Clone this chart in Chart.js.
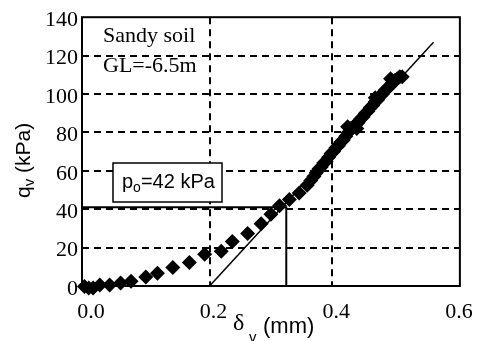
<!DOCTYPE html>
<html>
<head>
<meta charset="utf-8">
<script src="https://cdn.jsdelivr.net/npm/chart.js@4.4.1/dist/chart.umd.min.js"></script>
<style>
html, body { margin: 0; padding: 0; background: #fff; }
canvas { display: block; }
</style>
</head>
<body>
<canvas id="grafico" width="482" height="341"></canvas>
<script>
// leituras do ensaio (deslocamento em mm, pressao em kPa)
const deslocamento = [-0.004, 0.003, 0.010, 0.021, 0.037, 0.055, 0.072, 0.096, 0.115, 0.140, 0.167, 0.192,
    0.219, 0.237, 0.262, 0.284, 0.300, 0.314, 0.330, 0.346, 0.359, 0.365, 0.370, 0.374, 0.378, 0.382,
    0.386, 0.390, 0.394, 0.398, 0.402, 0.406, 0.410, 0.414, 0.418, 0.422, 0.426, 0.430, 0.434, 0.438,
    0.442, 0.446, 0.450, 0.454, 0.458, 0.462, 0.466, 0.470, 0.474, 0.478, 0.482, 0.486, 0.490, 0.494,
    0.498, 0.502, 0.506, 0.510, 0.514, 0.425, 0.440, 0.470, 0.495];
const pressao = [-0.3, -1, -1, 0.5, 0.5, 1.5, 2.5, 4.7, 6.7, 9.7, 12.2, 16.5,
    18.1, 23.2, 27.4, 32.4, 37.4, 41.8, 45, 48.4, 52.5, 55, 57, 59, 61, 62,
    64, 65, 67, 69, 70, 72, 73, 75, 76, 78, 80, 82, 83, 84,
    85, 87, 88, 90, 91, 93, 94, 96, 97, 99, 100, 102, 103, 104,
    106, 107, 108, 109, 109, 83, 82, 98, 108];

// reta ajustada no trecho linear
const retaX = [0.2, 0.565];
const retaY = [0, 127];

// leitura de po
const linhaPoX = [-0.008, 0.325, 0.325];
const linhaPoY = [41, 41, 0];

const marcasX = [0.0, 0.2, 0.4, 0.6];
const marcasY = [0, 20, 40, 60, 80, 100, 120, 140];

function juntar(xs, ys) {
    let pts = [];
    for (var i = 0; i < xs.length; i++) {
        pts.push({ x: xs[i], y: ys[i] });
    }
    return pts;
}

const serif = '"Liberation Serif", "Times New Roman", serif';
const sans = '"Liberation Sans", Arial, sans-serif';

const moldura = {
    id: 'moldura',
    afterDraw(chart) {
        const ctx = chart.ctx;
        const a = chart.chartArea;
        ctx.save();
        ctx.strokeStyle = '#000';
        ctx.lineWidth = 2;
        ctx.setLineDash([]);
        ctx.strokeRect(a.left, a.top, a.right - a.left, a.bottom - a.top);

        ctx.fillStyle = '#000';
        ctx.textBaseline = 'alphabetic';
        ctx.textAlign = 'left';
        ctx.font = '22px ' + serif;
        ctx.fillText('Sandy soil', a.left + 21, 42);
        ctx.fillText('GL=-6.5m', a.left + 21, 72);

        // caixa do po
        ctx.fillStyle = '#fff';
        ctx.fillRect(113, 163, 109, 39);
        ctx.lineWidth = 1.5;
        ctx.strokeRect(113, 163, 109, 39);
        ctx.fillStyle = '#000';
        ctx.font = '20px ' + sans;
        let x = 122;
        ctx.fillText('p', x, 188);
        x += ctx.measureText('p').width;
        ctx.font = '14px ' + sans;
        ctx.fillText('o', x, 192);
        x += ctx.measureText('o').width;
        ctx.font = '20px ' + sans;
        ctx.fillText('=42 kPa', x, 188);

        // titulo eixo x
        ctx.font = '24px ' + serif;
        ctx.fillText('\u03B4', 233, 330);
        ctx.font = '15px ' + sans;
        ctx.fillText('v', 249, 342);
        ctx.font = '22px ' + sans;
        ctx.fillText('(mm)', 263, 333);

        // titulo eixo y
        ctx.translate(30, 198);
        ctx.rotate(-Math.PI / 2);
        ctx.font = '21px ' + sans;
        ctx.fillText('q', 0, 0);
        let y = ctx.measureText('q').width;
        ctx.font = '15px ' + sans;
        ctx.fillText('v', y, 4);
        y += ctx.measureText('v').width;
        ctx.font = '21px ' + sans;
        ctx.fillText(' (kPa)', y, 0);
        ctx.restore();
    }
};

const cty = document.getElementById('grafico');
new Chart(cty, {
    type: 'scatter',
    data: {
        datasets: [{
            data: juntar(deslocamento, pressao),
            pointStyle: 'rectRot',
            pointRadius: 7.5,
            backgroundColor: '#000',
            borderColor: '#000',
            borderWidth: 0,
            showLine: false,
            clip: false
        }, {
            data: juntar(retaX, retaY),
            showLine: true,
            borderColor: '#000',
            borderWidth: 1.5,
            pointRadius: 0
        }, {
            data: juntar(linhaPoX, linhaPoY),
            showLine: true,
            borderColor: '#000',
            borderWidth: 2,
            pointRadius: 0
        }]
    },
    options: {
        responsive: false,
        animation: false,
        layout: { padding: { top: 10, right: 21, left: 0, bottom: 0 } },
        plugins: {
            legend: { display: false },
            tooltip: { enabled: false }
        },
        scales: {
            x: {
                type: 'linear',
                min: -0.008,
                max: 0.608,
                afterBuildTicks: function (axis) {
                    axis.ticks = marcasX.map(v => ({ value: v }));
                },
                afterFit: function (axis) { axis.height = 55; },
                ticks: {
                    color: '#000',
                    padding: 13,
                    labelOffset: 4,
                    font: { family: serif, size: 22 },
                    callback: v => Number(v).toFixed(1)
                },
                grid: {
                    drawTicks: false,
                    lineWidth: 2,
                    color: c => (c.tick && (c.tick.value === 0.2 || c.tick.value === 0.4)) ? '#000' : 'rgba(0,0,0,0)'
                },
                border: { display: false, dash: [7, 5] }
            },
            y: {
                min: 0,
                max: 140,
                afterBuildTicks: function (axis) {
                    axis.ticks = marcasY.map(v => ({ value: v }));
                },
                afterFit: function (axis) { axis.width = 82; },
                ticks: {
                    color: '#000',
                    padding: 4,
                    labelOffset: 3,
                    font: { family: serif, size: 22 }
                },
                grid: {
                    drawTicks: false,
                    lineWidth: 2,
                    color: c => (c.tick && c.tick.value > 0 && c.tick.value < 140) ? '#000' : 'rgba(0,0,0,0)'
                },
                border: { display: false, dash: [7, 5] }
            }
        }
    },
    plugins: [moldura]
});
</script>
</body>
</html>
